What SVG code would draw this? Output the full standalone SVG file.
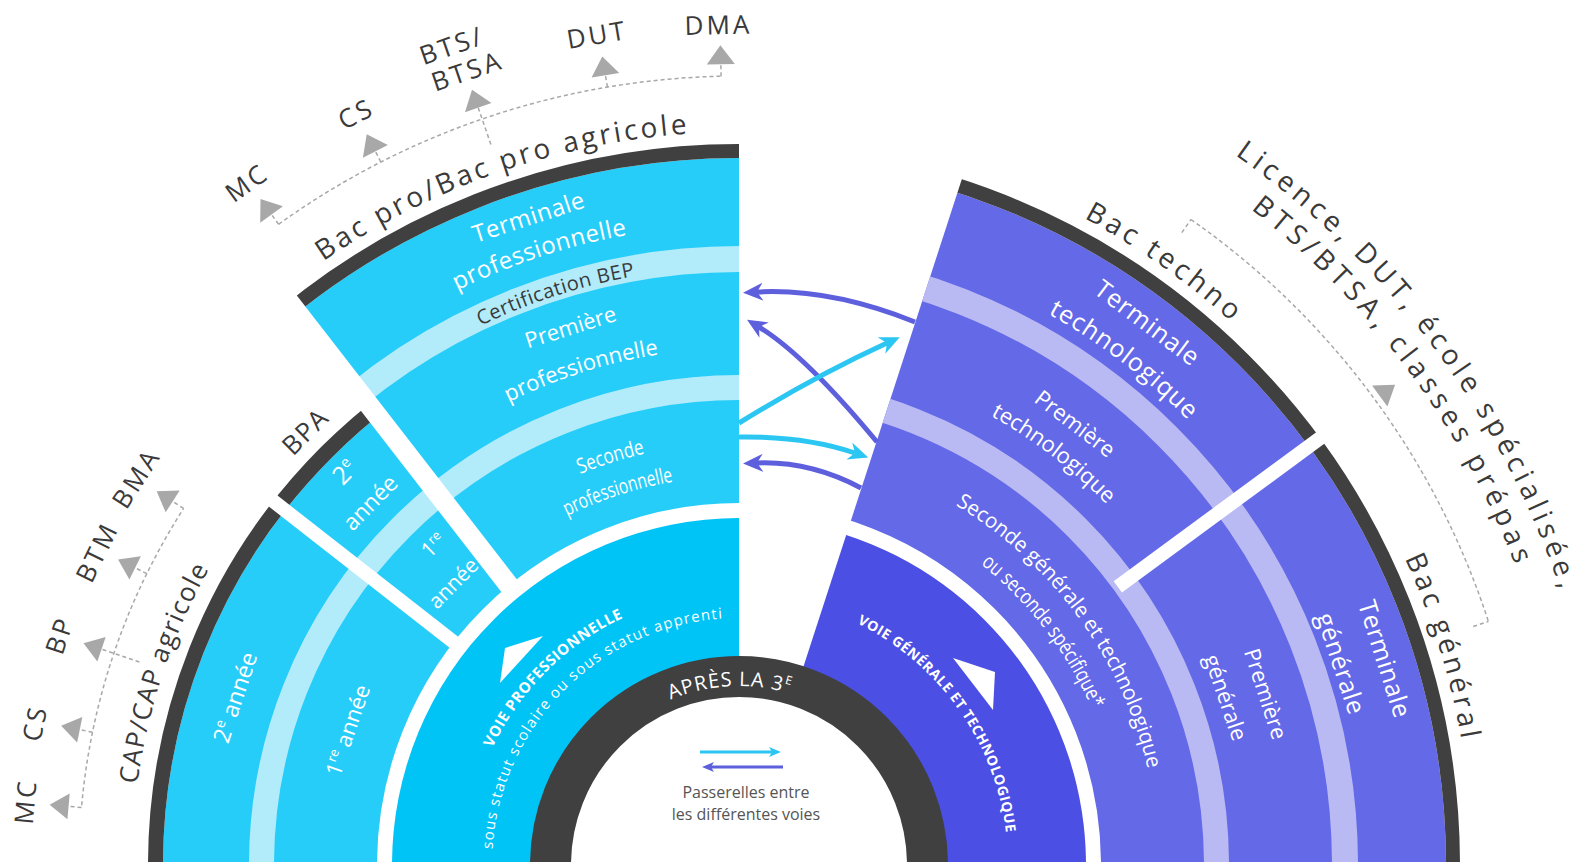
<svg xmlns="http://www.w3.org/2000/svg" width="1587" height="862" viewBox="0 0 1587 862">
<defs>
<style>
text{font-family:'Open Sans','Liberation Sans',sans-serif;}
.dk{fill:#3a3a3a}
.wt{fill:#ffffff}
.gl{font-size:26px;fill:#3a3a3a;letter-spacing:3px}
.tri{fill:#a8a8a8}
.dash{fill:none;stroke:#a8a8a8;stroke-width:1.5;stroke-dasharray:4 3}
.ring{fill:none}
.blue{stroke:#27CDF9}
.lblue{stroke:#B2ECFB}
.purp{stroke:#6469E7}
.lpurp{stroke:#B9BAF3}
.dark{stroke:#404040}
.gap{stroke:#ffffff}
.arr{fill:none;stroke-width:5}
</style>
<clipPath id="cCB"><polygon points="739,865 -1061,865 -884.2,87.2 -388.9,-537.8"/></clipPath>
<clipPath id="cBP"><polygon points="739,865 -388.9,-537.8 141,-832.8 739,-935"/></clipPath>
<clipPath id="cR"><polygon points="739,865 1295.2,-846.9 2195.2,-193 2539,865"/></clipPath>
<path id="r733" d="M177.5,393.8 A733,733 0 0 1 1300.5,393.8"/>
<path id="r640" d="M248.8,453.6 A640,640 0 0 1 1229.2,453.6"/>
<path id="r598" d="M280.9,480.6 A598,598 0 0 1 1197.1,480.6"/>
<path id="r517" d="M343,532.7 A517,517 0 0 1 1135,532.7"/>
<path id="r607" d="M274,474.8 A607,607 0 0 1 1204,474.8"/>
<path id="r632" d="M254.9,458.7 A632,632 0 0 1 1223.1,458.7"/>
<path id="r515" d="M344.5,534 A515,515 0 0 1 1133.5,534"/>
<path id="r422" d="M415.7,593.7 A422,422 0 0 1 1062.3,593.7"/>
<path id="r389" d="M441,615 A389,389 0 0 1 1037,615"/>
<path id="r420" d="M417.3,595 A420,420 0 0 1 1060.7,595"/>
<path id="r386" d="M443.3,616.9 A386,386 0 0 1 1034.7,616.9"/>
<path id="r273" d="M529.9,689.5 A273,273 0 0 1 948.1,689.5"/>
<path id="r269" d="M532.9,692.1 A269,269 0 0 1 945.1,692.1"/>
<path id="r247" d="M549.8,706.2 A247,247 0 0 1 928.2,706.2"/>
<path id="r179" d="M601.9,749.9 A179,179 0 0 1 876.1,749.9"/>
<path id="r866" d="M75.6,308.3 A866,866 0 0 1 1402.4,308.3"/>
<path id="r832" d="M101.7,330.2 A832,832 0 0 1 1376.3,330.2"/>
<marker id="mc" viewBox="0 -9 20 18" refX="6" refY="0" markerWidth="20" markerHeight="18" markerUnits="userSpaceOnUse" orient="auto"><path d="M0,-9 L20,0 L0,9 L6,0 Z" fill="#2CC6F2"/></marker>
<marker id="mp" viewBox="0 -9 20 18" refX="6" refY="0" markerWidth="20" markerHeight="18" markerUnits="userSpaceOnUse" orient="auto"><path d="M0,-9 L20,0 L0,9 L6,0 Z" fill="#5D5FDC"/></marker>
<marker id="mcs" viewBox="0 -5 12 10" refX="3" refY="0" markerWidth="12" markerHeight="10" markerUnits="userSpaceOnUse" orient="auto"><path d="M0,-5 L12,0 L0,5 L3,0 Z" fill="#2CC6F2"/></marker>
<marker id="mps" viewBox="0 -5 12 10" refX="3" refY="0" markerWidth="12" markerHeight="10" markerUnits="userSpaceOnUse" orient="auto"><path d="M0,-5 L12,0 L0,5 L3,0 Z" fill="#5D5FDC"/></marker>
</defs>
<rect width="1587" height="862" fill="#ffffff"/>

<g id="cap-bpa-rings" clip-path="url(#cCB)">
<circle class="ring blue" cx="739" cy="865" r="469" stroke-width="214"/>
<circle class="ring lblue" cx="739" cy="865" r="477.5" stroke-width="25"/>
<circle class="ring dark" cx="739" cy="865" r="583.5" stroke-width="15"/>
</g>
<g id="bac-pro-rings" clip-path="url(#cBP)">
<circle class="ring blue" cx="739" cy="865" r="534.5" stroke-width="345"/>
<circle class="ring lblue" cx="739" cy="865" r="477.5" stroke-width="25"/>
<circle class="ring lblue" cx="739" cy="865" r="606" stroke-width="26"/>
<circle class="ring dark" cx="739" cy="865" r="714" stroke-width="14"/>
</g>
<g id="voie-gt-rings" clip-path="url(#cR)">
<circle class="ring purp" cx="739" cy="865" r="534.5" stroke-width="345"/>
<circle class="ring lpurp" cx="739" cy="865" r="477.5" stroke-width="25"/>
<circle class="ring lpurp" cx="739" cy="865" r="606" stroke-width="26"/>
<circle class="ring dark" cx="739" cy="865" r="714" stroke-width="14"/>
</g>
<g id="gaps">
<line class="gap" x1="461.6" y1="648.3" x2="266.2" y2="495.6" stroke-width="14"/>
<line class="gap" x1="515.1" y1="593.4" x2="280.4" y2="290.6" stroke-width="20"/>
<line class="gap" x1="1117.8" y1="586.8" x2="1331.3" y2="429.9" stroke-width="14"/>
</g>

<g id="voie-pro">
<path d="M739,865 L392,865 A347,347 0 0 1 739,518 Z" fill="#00C4F6"/>
<polygon points="500,683 505,648 543,636" fill="#ffffff"/>
<text class="wt" font-size="15" font-weight="700" letter-spacing="0.5" text-anchor="middle" transform="rotate(-44.8 739 865)"><textPath href="#r273" startOffset="50%">VOIE PROFESSIONNELLE</textPath></text>
<text class="wt" font-size="15" text-anchor="middle" transform="rotate(-45.1 739 865)"><textPath href="#r247" startOffset="50%" textLength="355" lengthAdjust="spacing">sous statut scolaire ou sous statut apprenti</textPath></text>
</g>
<g id="voie-gt">
<path d="M739,865 L846.2,535 A347,347 0 0 1 1086,865 Z" fill="#4B4FE3"/>
<polygon points="953,658 995,672 993,710" fill="#ffffff"/>
<text class="wt" font-size="14" font-weight="700" letter-spacing="0.5" text-anchor="middle" transform="rotate(54.6 739 865)"><textPath href="#r269" startOffset="50%">VOIE GÉNÉRALE ET TECHNOLOGIQUE</textPath></text>
<text class="wt" font-size="21" text-anchor="middle" transform="rotate(53.9 739 865)"><textPath href="#r420" startOffset="50%" textLength="335" lengthAdjust="spacingAndGlyphs">Seconde générale et technologique</textPath></text>
<text class="wt" font-size="21" text-anchor="middle" transform="rotate(52.5 739 865)"><textPath href="#r386" startOffset="50%" textLength="185" lengthAdjust="spacingAndGlyphs">ou seconde spécifique*</textPath></text>
</g>

<g id="center">
<circle cx="739" cy="865" r="188.5" fill="#ffffff" stroke="#404040" stroke-width="41"/>
<text class="wt" font-size="20" letter-spacing="1" text-anchor="middle" transform="rotate(-3 739 865)"><textPath href="#r179" startOffset="50%">APRÈS LA 3<tspan font-size="12" dy="-8">E</tspan></textPath></text>
</g>

<g id="cap">
<text class="wt" font-size="23" x="739" y="342" text-anchor="middle" transform="rotate(-71.6 739 865)">2<tspan font-size="14" dy="-9">e</tspan><tspan dy="9"> année</tspan></text>
<text class="wt" font-size="22" x="739" y="459" text-anchor="middle" transform="rotate(-71 739 865)">1<tspan font-size="13" dy="-9">re</tspan><tspan dy="9"> année</tspan></text>
<text class="dk" font-size="26" text-anchor="middle" transform="rotate(-71.6 739 865)"><textPath href="#r607" startOffset="50%" textLength="228" lengthAdjust="spacing">CAP/CAP agricole</textPath></text>
</g>

<g id="bpa">
<text class="dk" font-size="26" letter-spacing="1.5" x="739" y="261" text-anchor="middle" transform="rotate(-45 739 865)">BPA</text>
<text class="wt" font-size="25" x="739" y="317" text-anchor="middle" transform="rotate(-45.1 739 865)">2<tspan font-size="15" dy="-10">e</tspan></text>
<text class="wt" font-size="23" x="739" y="356" text-anchor="middle" transform="rotate(-45.5 739 865)">année</text>
<text class="wt" font-size="21" x="739" y="430" text-anchor="middle" transform="rotate(-43.7 739 865)">1<tspan font-size="13" dy="-8">re</tspan></text>
<text class="wt" font-size="21" x="739" y="471" text-anchor="middle" transform="rotate(-45.4 739 865)">année</text>
</g>

<g id="bac-pro">
<text class="dk" font-size="28" text-anchor="middle" transform="rotate(-19.3 739 865)"><textPath href="#r733" startOffset="50%" textLength="390" lengthAdjust="spacing">Bac pro/Bac pro agricole</textPath></text>
<text class="wt" font-size="24" letter-spacing="0.5" x="739" y="192" text-anchor="middle" transform="rotate(-18 739 865)">Terminale</text>
<text class="wt" font-size="24" letter-spacing="0.5" text-anchor="middle" transform="rotate(-18.1 739 865)"><textPath href="#r640" startOffset="50%">professionnelle</textPath></text>
<text class="dk" font-size="20" letter-spacing="0.5" text-anchor="middle" transform="rotate(-17.8 739 865)"><textPath href="#r598" startOffset="50%">Certification BEP</textPath></text>
<text class="wt" font-size="22" x="739" y="309" text-anchor="middle" transform="rotate(-17.4 739 865)">Première</text>
<text class="wt" font-size="22" text-anchor="middle" transform="rotate(-17.7 739 865)"><textPath href="#r517" startOffset="50%">professionnelle</textPath></text>
<text class="wt" font-size="21" text-anchor="middle" transform="rotate(-17.5 739 865)"><textPath href="#r422" startOffset="50%" textLength="68" lengthAdjust="spacingAndGlyphs">Seconde</textPath></text>
<text class="wt" font-size="21" text-anchor="middle" transform="rotate(-18 739 865)"><textPath href="#r389" startOffset="50%" textLength="112" lengthAdjust="spacingAndGlyphs">professionnelle</textPath></text>
</g>

<g id="bac-techno">
<text class="dk" font-size="28" text-anchor="middle" transform="rotate(35.1 739 865)"><textPath href="#r733" startOffset="50%" textLength="180" lengthAdjust="spacing">Bac techno</textPath></text>
<text class="wt" font-size="25" letter-spacing="0.8" x="739" y="195" text-anchor="middle" transform="rotate(37 739 865)">Terminale</text>
<text class="wt" font-size="25" letter-spacing="0.8" text-anchor="middle" transform="rotate(37.3 739 865)"><textPath href="#r632" startOffset="50%">technologique</textPath></text>
<text class="wt" font-size="22" x="739" y="318" text-anchor="middle" transform="rotate(37.3 739 865)">Première</text>
<text class="wt" font-size="22" text-anchor="middle" transform="rotate(37.4 739 865)"><textPath href="#r515" startOffset="50%">technologique</textPath></text>
</g>

<g id="bac-general">
<text class="dk" font-size="28" text-anchor="middle" transform="rotate(72.7 739 865)"><textPath href="#r733" startOffset="50%" textLength="190" lengthAdjust="spacing">Bac général</textPath></text>
<text class="wt" font-size="25" letter-spacing="0.5" x="739" y="196" text-anchor="middle" transform="rotate(72.3 739 865)">Terminale</text>
<text class="wt" font-size="25" letter-spacing="0.5" x="739" y="239" text-anchor="middle" transform="rotate(71.5 739 865)">générale</text>
<text class="wt" font-size="22" x="739" y="319" text-anchor="middle" transform="rotate(72 739 865)">Première</text>
<text class="wt" font-size="22" x="739" y="358" text-anchor="middle" transform="rotate(71 739 865)">générale</text>
</g>

<g id="outcomes-top">
<path class="dash" d="M278.6,224.3 A789,789 0 0 1 722.5,76.2"/>
<line class="dash" x1="739" y1="76" x2="739" y2="64" transform="rotate(-35.7 739 865)"/>
<line class="dash" x1="739" y1="76" x2="739" y2="64" transform="rotate(-27 739 865)"/>
<line class="dash" x1="739" y1="103" x2="739" y2="64" transform="rotate(-19 739 865)"/>
<line class="dash" x1="739" y1="76" x2="739" y2="64" transform="rotate(-9.6 739 865)"/>
<line class="dash" x1="739" y1="76" x2="739" y2="64" transform="rotate(-1.3 739 865)"/>
<polygon class="tri" points="739,45 725,64 753,64" transform="rotate(-35.7 739 865)"/>
<polygon class="tri" points="739,45 725,64 753,64" transform="rotate(-27 739 865)"/>
<polygon class="tri" points="739,45 725,64 753,64" transform="rotate(-19 739 865)"/>
<polygon class="tri" points="739,45 725,64 753,64" transform="rotate(-9.6 739 865)"/>
<polygon class="tri" points="739,45 725,64 753,64" transform="rotate(-1.3 739 865)"/>
<text class="gl" x="739" y="33" text-anchor="middle" transform="rotate(-35.8 739 865)">MC</text>
<text class="gl" x="739" y="31" text-anchor="middle" transform="rotate(-27 739 865)">CS</text>
<text class="gl" x="739" y="6" text-anchor="middle" transform="rotate(-19.3 739 865)">BTS/</text>
<text class="gl" x="739" y="35" text-anchor="middle" transform="rotate(-18.9 739 865)">BTSA</text>
<text class="gl" x="739" y="32" text-anchor="middle" transform="rotate(-9.7 739 865)">DUT</text>
<text class="gl" x="739" y="34" text-anchor="middle" transform="rotate(-1.4 739 865)">DMA</text>
</g>

<g id="outcomes-left">
<path class="dash" d="M81.7,805.2 A660,660 0 0 1 183.6,508.5"/>
<line class="dash" x1="739" y1="205" x2="739" y2="192" transform="rotate(-85 739 865)"/>
<line class="dash" x1="739" y1="205" x2="739" y2="192" transform="rotate(-78.4 739 865)"/>
<line class="dash" x1="739" y1="232" x2="739" y2="192" transform="rotate(-71.3 739 865)"/>
<line class="dash" x1="739" y1="205" x2="739" y2="192" transform="rotate(-63.8 739 865)"/>
<line class="dash" x1="739" y1="205" x2="739" y2="192" transform="rotate(-57.3 739 865)"/>
<polygon class="tri" points="739,173 726,192 752,192" transform="rotate(-85 739 865)"/>
<polygon class="tri" points="739,173 726,192 752,192" transform="rotate(-78.4 739 865)"/>
<polygon class="tri" points="739,173 726,192 752,192" transform="rotate(-71.3 739 865)"/>
<polygon class="tri" points="739,173 726,192 752,192" transform="rotate(-63.8 739 865)"/>
<polygon class="tri" points="739,173 726,192 752,192" transform="rotate(-57.3 739 865)"/>
<text class="gl" x="739" y="158" text-anchor="middle" transform="rotate(-84.9 739 865)">MC</text>
<text class="gl" x="739" y="156" text-anchor="middle" transform="rotate(-78.6 739 865)">CS</text>
<text class="gl" x="739" y="157" text-anchor="middle" transform="rotate(-71.3 739 865)">BP</text>
<text class="gl" x="739" y="160" text-anchor="middle" transform="rotate(-64 739 865)">BTM</text>
<text class="gl" x="739" y="158" text-anchor="middle" transform="rotate(-57.3 739 865)">BMA</text>
</g>

<g id="outcomes-right">
<path class="dash" d="M1191,219.5 A788,788 0 0 1 1488.4,621.5"/>
<line class="dash" x1="739" y1="93" x2="739" y2="77" transform="rotate(35 739 865)"/>
<line class="dash" x1="739" y1="93" x2="739" y2="77" transform="rotate(72 739 865)"/>
<polygon class="tri" points="739,52 726,71 752,71" transform="rotate(53.8 739 865)"/>
<text class="dk" font-size="28" text-anchor="middle" transform="rotate(53.2 739 865)"><textPath href="#r866" startOffset="50%" textLength="552" lengthAdjust="spacing">Licence, DUT, école spécialisée,</textPath></text>
<text class="dk" font-size="28" text-anchor="middle" transform="rotate(53.4 739 865)"><textPath href="#r832" startOffset="50%" textLength="448" lengthAdjust="spacing">BTS/BTSA, classes prépas</textPath></text>
</g>

<g id="passerelles">
<path class="arr" stroke="#5D5FDC" d="M915,322 Q830,288 757,292" marker-end="url(#mp)"/>
<path class="arr" stroke="#5D5FDC" d="M877,442 Q805,355 759,327" marker-end="url(#mp)"/>
<path class="arr" stroke="#2CC6F2" d="M739,423 Q815,376 887,343" marker-end="url(#mc)"/>
<path class="arr" stroke="#2CC6F2" d="M739,437 Q805,436 855,453" marker-end="url(#mc)"/>
<path class="arr" stroke="#5D5FDC" d="M861,488 Q810,461 757,463" marker-end="url(#mp)"/>
</g>

<g id="legend">
<line x1="700" y1="752" x2="772" y2="752" stroke="#2CC6F2" stroke-width="3" marker-end="url(#mcs)"/>
<line x1="783" y1="767" x2="711" y2="767" stroke="#5D5FDC" stroke-width="3" marker-end="url(#mps)"/>
<text x="746" y="798" font-size="16" fill="#555555" text-anchor="middle">Passerelles entre</text>
<text x="746" y="820" font-size="16" fill="#555555" text-anchor="middle">les différentes voies</text>
</g>
</svg>
